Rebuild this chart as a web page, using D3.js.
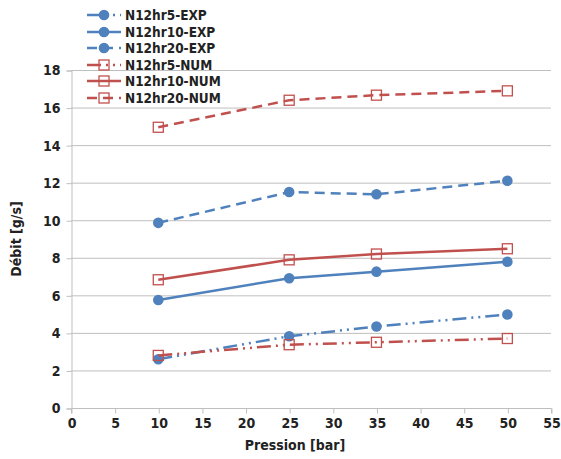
<!DOCTYPE html>
<html><head><meta charset="utf-8">
<script src="https://cdn.jsdelivr.net/npm/d3@7/dist/d3.min.js"></script>
<style>body{margin:0;background:#fff}text{font-family:"DejaVu Sans Condensed","DejaVu Sans",Verdana,sans-serif;font-weight:bold}</style>
</head><body><svg id="c" width="561" height="459"></svg>
<script>
const pressures = [10, 25, 35, 50];
const seriesNames = ["N12hr5-EXP","N12hr10-EXP","N12hr20-EXP","N12hr5-NUM","N12hr10-NUM","N12hr20-NUM"];
const exp5 = [2.6, 3.82, 4.34, 4.98];
const exp10 = [5.75, 6.91, 7.26, 7.79];
const exp20 = [9.86, 11.5, 11.38, 12.1];
const num5 = [2.8, 3.37, 3.5, 3.7];
const num10 = [6.83, 7.89, 8.2, 8.48];
const num20 = [14.95, 16.39, 16.66, 16.89];
const xTicks = [0,5,10,15,20,25,30,35,40,45,50,55];
const yTicks = [0,2,4,6,8,10,12,14,16,18];

const blue="#4F81BD", red="#C0504D";
const dashDotDot="14,5,2,5,2,5", dashed="10,6";
const series = [
  {name:seriesNames[0], vals:exp5, color:blue, dash:dashDotDot, marker:"circle"},
  {name:seriesNames[1], vals:exp10, color:blue, dash:null, marker:"circle"},
  {name:seriesNames[2], vals:exp20, color:blue, dash:dashed, marker:"circle"},
  {name:seriesNames[3], vals:num5, color:red, dash:dashDotDot, marker:"square"},
  {name:seriesNames[4], vals:num10, color:red, dash:null, marker:"square"},
  {name:seriesNames[5], vals:num20, color:red, dash:dashed, marker:"square"},
];
const FF = "'DejaVu Sans Condensed','DejaVu Sans',Verdana,sans-serif";

const svg = d3.select("#c");
const L=71, R=551, T=70, B=408;
const x = d3.scaleLinear().domain([0,55]).range([L,R]);
const y = d3.scaleLinear().domain([0,18]).range([B,T]);

svg.append("g").selectAll("line").data(yTicks.filter(d=>d>0)).join("line")
  .attr("x1",L).attr("x2",R).attr("y1",d=>y(d)+0.5).attr("y2",d=>y(d)+0.5)
  .attr("stroke","#bfbfbf").attr("stroke-width",1);

const yAxis = svg.append("g").attr("transform",`translate(${L+0.5},0.5)`)
  .call(d3.axisLeft(y).tickValues(yTicks).tickSize(5).tickPadding(6));
const xAxis = svg.append("g").attr("transform",`translate(0.5,${B+0.5})`)
  .call(d3.axisBottom(x).tickValues(xTicks).tickSize(5).tickPadding(5));
[yAxis,xAxis].forEach(a=>{
  a.select(".domain").attr("stroke","#bfbfbf");
  a.selectAll(".tick line").attr("stroke","#bfbfbf");
  a.selectAll("text").attr("font-size",14).attr("fill","#222")
   .style("font-family",FF).attr("font-weight","bold");
});
xAxis.select(".domain").attr("d",`M${L},5V0H${R}V5`);

svg.append("text").attr("transform",`translate(21,${(T+B)/2}) rotate(-90)`)
  .attr("text-anchor","middle").attr("font-size",14).attr("fill","#222").text("Débit [g/s]");
svg.append("text").attr("x",(L+R)/2 - 16).attr("y",450)
  .attr("text-anchor","middle").attr("font-size",14).attr("fill","#222").text("Pression [bar]");

const line = d3.line().x((d,i)=>x(pressures[i])).y(d=>y(d));
function marker(g, type, color, cx, cy){
  if(type==="circle") g.append("circle").attr("cx",cx).attr("cy",cy).attr("r",5.3).attr("fill",color);
  else g.append("rect").attr("x",cx-5).attr("y",cy-5).attr("width",10).attr("height",10)
    .attr("fill","none").attr("stroke",color).attr("stroke-width",1.3);
}
series.forEach(s=>{
  const g = svg.append("g");
  g.append("path").attr("d",line(s.vals)).attr("fill","none").attr("stroke",s.color)
   .attr("stroke-width",2.5).attr("stroke-dasharray",s.dash);
  s.vals.forEach((v,i)=>marker(g,s.marker,s.color,x(pressures[i]),y(v)));
});

const legY=[15,32,48,65,81,98];
series.forEach((s,i)=>{
  const g = svg.append("g");
  const ly = legY[i];
  g.append("line").attr("x1",87).attr("x2",121).attr("y1",ly).attr("y2",ly)
   .attr("stroke",s.color).attr("stroke-width",2.5).attr("stroke-dasharray",s.dash);
  marker(g,s.marker,s.color,104,ly);
  g.append("text").attr("x",125).attr("y",ly+5).attr("font-size",13.5).attr("fill","#222").text(s.name);
});
</script></body></html>
